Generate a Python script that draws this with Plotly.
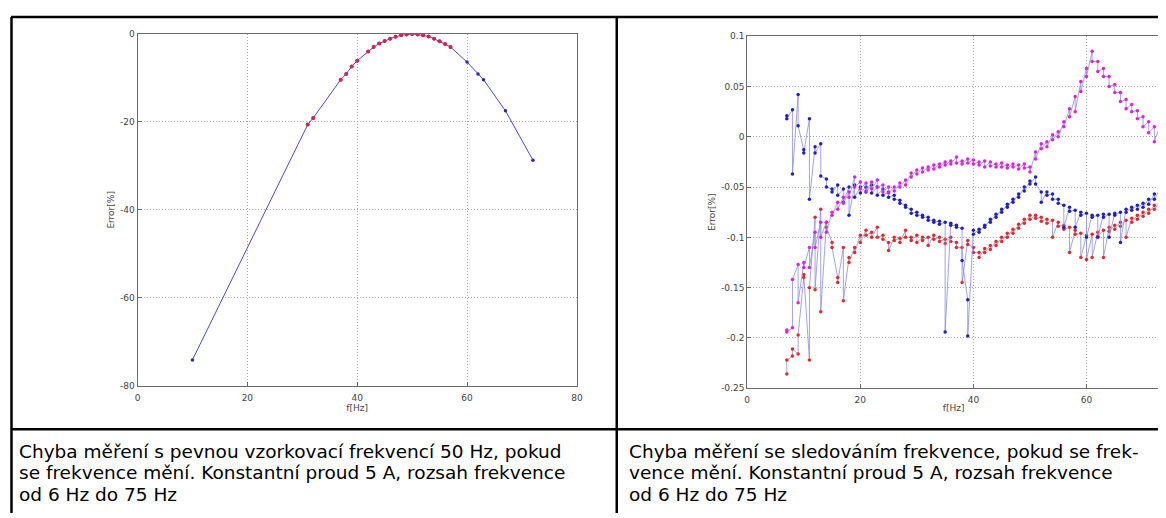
import plotly.graph_objects as go

# left chart: fixed 50 Hz sampling
f_fixed = [10, 31, 32, 37, 38, 39, 40, 42, 43, 44, 45, 46, 47, 48, 49, 50,
           51, 52, 53, 54, 55, 56, 57, 60, 62, 63, 67, 72]
err_fixed = [-74.1, -20.6, -19.1, -10.4, -9.1, -7.4, -6.1, -4.0, -3.0, -2.2, -1.6, -1.1,
             -0.67, -0.3, -0.15, 0.0, -0.15, -0.3, -0.6, -1.1, -1.7, -2.3, -3.0,
             -6.4, -9.1, -10.4, -17.5, -28.7]

# right chart: frequency tracking, two readings per frequency
f_track = [7, 8, 9, 10, 11, 12, 13, 14, 15, 16, 17, 18, 19, 20, 21, 22, 23, 24, 25, 26,
           27, 28, 29, 30, 31, 32, 33, 34, 35, 36, 37, 38, 39, 40, 41, 42, 43, 44, 45, 46,
           47, 48, 49, 50, 51, 52, 53, 54, 55, 56, 57, 58, 59, 60, 61, 62, 63, 64, 65, 66,
           67, 68, 69, 70, 71, 72, 73]

blue_a = [0.021, 0.027, 0.042, -0.013, 0.018, -0.010, -0.007, -0.042, -0.052, -0.048,
          -0.052, -0.050, -0.048, -0.050, -0.050, -0.048, -0.050, -0.052, -0.055, -0.058,
          -0.063, -0.068, -0.072, -0.075, -0.078, -0.080, -0.083, -0.084, -0.085, -0.086,
          -0.088, -0.091, -0.162, -0.093, -0.092, -0.088, -0.082, -0.077, -0.072, -0.067,
          -0.062, -0.057, -0.050, -0.044, -0.040, -0.055, -0.055, -0.057, -0.062, -0.068,
          -0.070, -0.073, -0.075, -0.076, -0.078, -0.078, -0.077, -0.077, -0.076, -0.075,
          -0.072, -0.070, -0.068, -0.066, -0.062, -0.057, -0.052]
blue_b = [0.018, -0.037, 0.011, -0.016, -0.062, -0.016, -0.039, -0.050, -0.055, -0.058,
          -0.065, -0.078, -0.060, -0.056, -0.055, -0.056, -0.058, -0.058, -0.060, -0.062,
          -0.066, -0.070, -0.076, -0.078, -0.080, -0.083, -0.085, -0.087, -0.194, -0.088,
          -0.090, -0.123, -0.198, -0.097, -0.095, -0.090, -0.085, -0.080, -0.075, -0.070,
          -0.065, -0.060, -0.054, -0.047, -0.047, -0.065, -0.058, -0.062, -0.066, -0.090,
          -0.074, -0.090, -0.078, -0.100, -0.080, -0.100, -0.080, -0.100, -0.078, -0.105,
          -0.075, -0.073, -0.072, -0.070, -0.067, -0.062, -0.056]

magenta_a = [-0.192, -0.190, -0.127, -0.125, -0.110, -0.095, -0.085, -0.085, -0.075, -0.065,
             -0.060, -0.055, -0.040, -0.045, -0.046, -0.045, -0.043, -0.048, -0.050, -0.050,
             -0.046, -0.043, -0.036, -0.033, -0.031, -0.030, -0.028, -0.027, -0.025, -0.024,
             -0.020, -0.024, -0.022, -0.023, -0.025, -0.024, -0.025, -0.027, -0.026, -0.028,
             -0.027, -0.028, -0.027, -0.030, -0.015, -0.007, -0.005, 0.002, 0.005, 0.015,
             0.028, 0.040, 0.055, 0.068, 0.085, 0.075, 0.068, 0.060, 0.052, 0.044,
             0.037, 0.032, 0.026, 0.020, 0.015, 0.010, 0.011]
magenta_b = [-0.194, -0.142, -0.165, -0.130, -0.130, -0.110, -0.100, -0.095, -0.078, -0.072,
             -0.066, -0.060, -0.050, -0.052, -0.054, -0.052, -0.050, -0.055, -0.056, -0.054,
             -0.050, -0.048, -0.040, -0.037, -0.035, -0.033, -0.032, -0.030, -0.028, -0.027,
             -0.026, -0.027, -0.026, -0.027, -0.028, -0.030, -0.029, -0.030, -0.030, -0.031,
             -0.030, -0.032, -0.031, -0.035, -0.022, -0.012, -0.010, -0.003, 0.000, 0.010,
             0.020, 0.025, 0.045, 0.060, 0.075, 0.065, 0.060, 0.050, 0.044, 0.035,
             0.028, 0.025, 0.018, 0.010, 0.004, -0.005, -0.020]

red_a = [-0.236, -0.218, -0.216, -0.140, -0.222, -0.080, -0.072, -0.085, -0.105, -0.140,
         -0.110, -0.120, -0.110, -0.098, -0.093, -0.095, -0.090, -0.098, -0.105, -0.100,
         -0.101, -0.093, -0.100, -0.098, -0.100, -0.100, -0.098, -0.100, -0.102, -0.100,
         -0.105, -0.110, -0.103, -0.110, -0.115, -0.111, -0.108, -0.104, -0.100, -0.096,
         -0.092, -0.087, -0.082, -0.078, -0.078, -0.080, -0.082, -0.083, -0.085, -0.088,
         -0.090, -0.093, -0.096, -0.098, -0.097, -0.095, -0.093, -0.090, -0.088, -0.085,
         -0.083, -0.081, -0.078, -0.075, -0.072, -0.068, -0.065]
red_b = [-0.222, -0.211, -0.197, -0.137, -0.150, -0.152, -0.174, -0.090, -0.110, -0.145,
         -0.163, -0.125, -0.115, -0.105, -0.098, -0.100, -0.100, -0.102, -0.113, -0.103,
         -0.105, -0.100, -0.103, -0.105, -0.103, -0.108, -0.102, -0.104, -0.106, -0.104,
         -0.110, -0.145, -0.107, -0.115, -0.120, -0.115, -0.112, -0.108, -0.104, -0.100,
         -0.096, -0.091, -0.086, -0.082, -0.081, -0.084, -0.086, -0.100, -0.089, -0.092,
         -0.115, -0.097, -0.120, -0.122, -0.120, -0.099, -0.120, -0.094, -0.092, -0.089,
         -0.100, -0.085, -0.082, -0.079, -0.076, -0.072, -0.069]

left_yticks = [0, -20, -40, -60, -80]
left_yticklabels = ["0", "-20", "-40", "-60", "-80"]
left_xticks = [0, 20, 40, 60, 80]
right_yticks = [0.1, 0.05, 0, -0.05, -0.1, -0.15, -0.2, -0.25]
right_yticklabels = ["0.1", "0.05", "0", "-0.05", "-0.1", "-0.15", "-0.2", "-0.25"]
right_xticks = [0, 20, 40, 60, 80]

caption_left = ["Chyba měření s pevnou vzorkovací frekvencí 50 Hz, pokud",
                "se frekvence mění. Konstantní proud 5 A, rozsah frekvence",
                "od 6 Hz do 75 Hz"]
caption_right = ["Chyba měření se sledováním frekvence, pokud se frek-",
                 "vence mění. Konstantní proud 5 A, rozsah frekvence",
                 "od 6 Hz do 75 Hz"]

# page body has an 8px margin, so the figure is shifted by OFF
OFF = 8
W, H = 1166 - OFF, 518 - OFF


def px(x):
    return (x - OFF) / W


def py(y):
    return 1 - (y - OFF) / H


def pairs(f, a, b):
    xs, ys = [], []
    for fi, ai, bi in zip(f, a, b):
        xs += [fi, fi]
        ys += [ai, bi]
    return xs, ys


fig = go.Figure()

# left chart
fig.add_trace(go.Scatter(x=f_fixed, y=err_fixed, mode="lines+markers",
                         line=dict(color="#4b4bcf", width=1),
                         marker=dict(color="#2a2aa8", size=3.5),
                         xaxis="x", yaxis="y", showlegend=False))
fig.add_trace(go.Scatter(x=f_fixed[1:23], y=err_fixed[1:23], mode="markers",
                         marker=dict(color="#e0204a", size=4),
                         xaxis="x", yaxis="y", showlegend=False))

# right chart
for a, b, col in [(red_a, red_b, "#e82828"), (blue_a, blue_b, "#2020c0"),
                  (magenta_a, magenta_b, "#e020e0")]:
    xs, ys = pairs(f_track, a, b)
    fig.add_trace(go.Scatter(x=xs, y=ys, mode="lines+markers",
                             line=dict(color="#8c8cdc", width=0.8),
                             marker=dict(color=col, size=3.5),
                             xaxis="x2", yaxis="y2", showlegend=False))

tick_font = dict(family="DejaVu Sans", size=9, color="#444")
ax_common = dict(showline=True, linecolor="#6a6a6a", linewidth=1,
                 ticks="inside", ticklen=4, tickcolor="#6a6a6a",
                 showgrid=True, gridcolor="#a8a8a8", griddash="1px,2px", gridwidth=1,
                 zeroline=False, tickfont=tick_font)

fig.update_layout(
    width=W, height=H, margin=dict(l=0, r=0, t=0, b=0),
    paper_bgcolor="white", plot_bgcolor="white",
    xaxis=dict(domain=[px(135.5), px(578.3)], range=[0, 80], tickvals=left_xticks,
               mirror=True, anchor="y", ticklabelstandoff=3,
               title=dict(text="f[Hz]", font=tick_font, standoff=0), **ax_common),
    yaxis=dict(domain=[py(388.3), py(29.3)], range=[-80, 0], tickvals=left_yticks,
               ticktext=left_yticklabels, mirror=True, anchor="x",
               title=dict(text="Error[%]", font=tick_font, standoff=3), **ax_common),
    xaxis2=dict(domain=[px(750), 1.0], range=[0, 73], tickvals=right_xticks,
                mirror=True, anchor="y2", ticklabelstandoff=3,
                title=dict(text="f[Hz]", font=tick_font, standoff=0), **ax_common),
    yaxis2=dict(domain=[py(390.7), py(31.7)], range=[-0.25, 0.1], tickvals=right_yticks,
                ticktext=right_yticklabels, anchor="x2",
                title=dict(text="Error[%]", font=tick_font, standoff=3), **ax_common),
)

# table borders
border = dict(color="black", width=2.5)
shapes = [
    dict(type="line", xref="paper", yref="paper", x0=px(8), x1=1, y0=py(12), y1=py(12), line=border),
    dict(type="line", xref="paper", yref="paper", x0=px(8), x1=1, y0=py(432.5), y1=py(432.5), line=border),
    dict(type="line", xref="paper", yref="paper", x0=px(8.5), x1=px(8.5), y0=py(12), y1=0, line=border),
    dict(type="line", xref="paper", yref="paper", x0=px(618.5), x1=px(618.5), y0=py(12), y1=0, line=border),
]
fig.update_layout(shapes=shapes)

cap_font = dict(family="DejaVu Sans", size=18.5, color="black")
line_y = [455, 477, 499]
for i in range(3):
    fig.add_annotation(x=px(14), y=py(line_y[i]), xref="paper", yref="paper",
                       text=caption_left[i], showarrow=False, xanchor="left",
                       yanchor="middle", font=cap_font)
    fig.add_annotation(x=px(629), y=py(line_y[i]), xref="paper", yref="paper",
                       text=caption_right[i], showarrow=False, xanchor="left",
                       yanchor="middle", font=cap_font)

fig.write_html("out.html")
